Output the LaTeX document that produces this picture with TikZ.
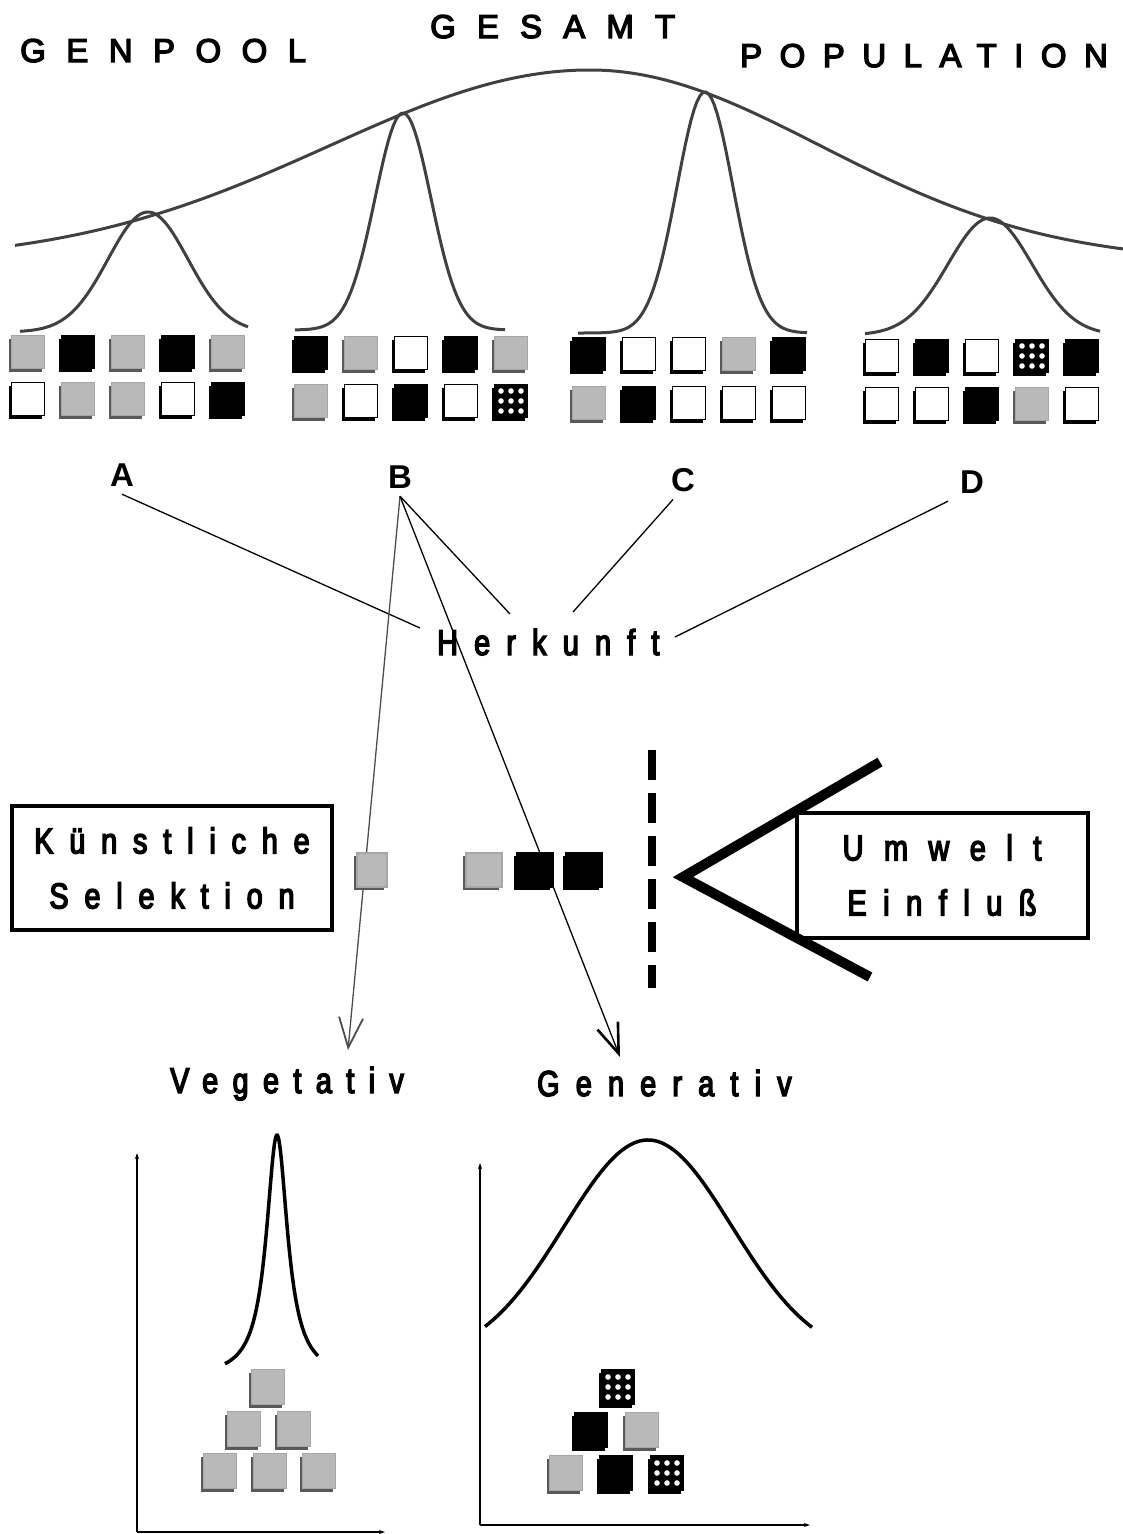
\documentclass[tikz,border=0pt]{standalone}
\usepackage{fontspec}
\setmainfont{Liberation Sans}
\usetikzlibrary{arrows.meta,shadows}

\newcommand{\wide}[2]{{\addfontfeature{LetterSpace=#1,FakeBold=4}#2}}
\newcommand{\narrowsp}[2]{{\addfontfeature{LetterSpace=#1,FakeStretch=0.8,FakeBold=4}#2}}

\begin{document}
\begin{tikzpicture}[x=1pt,y=-1pt,
    every node/.style={inner sep=0pt},
    big/.style={font=\fontsize{33}{55}\selectfont},
    low/.style={font=\fontsize{36}{55}\selectfont},
    lab/.style={font=\fontsize{33}{36}\selectfont\bfseries,inner sep=8pt},
    sqbase/.style={minimum width=33pt,minimum height=33pt,line width=1.2pt},
    sqg/.style={sqbase,fill=gray!55,draw=gray!70,
        drop shadow={shadow xshift=-3pt,shadow yshift=-3pt,fill=gray!70!black,opacity=1}},
    sqk/.style={sqbase,fill=black,draw=black,
        drop shadow={shadow xshift=-3pt,shadow yshift=-3pt,fill=black,opacity=1}},
    sqw/.style={sqbase,fill=white,draw=black,
        drop shadow={shadow xshift=-3pt,shadow yshift=-3pt,fill=black,opacity=1}},
    sqp/.style={sqk,path picture={
        \foreach \i in {-1,0,1} \foreach \j in {-1,0,1}
            \fill[white] ([xshift=\i*10pt,yshift=\j*10pt]path picture bounding box.center) circle (2.8pt);}},
    curve/.style={line width=3pt,draw=black!75},
    thin/.style={line width=1.3pt},
    box/.style={draw,line width=4pt,align=center,low}]

    \useasboundingbox (0,0) rectangle (1123,1534);

    % Ueberschrift
    \node[big,anchor=base west] (genpool) at (20,62) {\wide{62}{GENPOOL}};
    \node[big,anchor=base west] (gesamt) at (430,38) {\wide{64}{GESAMT}};
    \node[big,anchor=base west] (popul) at (740,67) {\wide{53}{POPULATION}};

    % Kurven
    \draw[curve] plot[domain=15:590,samples=80] (\x,{262-192*exp(-0.5*((\x-590)/260)^2)})
        -- plot[domain=590:1123,samples=80] (\x,{262-192*exp(-0.5*((\x-590)/230)^2)});
    \foreach \m/\p/\s/\b/\l/\r in {148/212/40/332/20/248, 403/113/28/330/295/505,
            705/92/28/333/578/807, 990/218/42/335/865/1100}
        \draw[curve] plot[domain=\l:\r,samples=80] (\x,{\b-(\b-\p)*exp(-0.5*((\x-\m)/\s)^2)});

    % Genotypen
    \foreach \t [count=\i] in {sqg,sqk,sqg,sqk,sqg}
        \node[\t] (A\i) at ({-22+50*\i},352) {};
    \foreach \t [count=\i] in {sqw,sqg,sqg,sqw,sqk}
        \node[\t] (a\i) at ({-22+50*\i},399) {};
    \foreach \t [count=\i] in {sqk,sqg,sqw,sqk,sqg}
        \node[\t] (B\i) at ({261+50*\i},353) {};
    \foreach \t [count=\i] in {sqg,sqw,sqk,sqw,sqp}
        \node[\t] (b\i) at ({261+50*\i},401) {};
    \foreach \t [count=\i] in {sqk,sqw,sqw,sqg,sqk}
        \node[\t] (C\i) at ({539+50*\i},354) {};
    \foreach \t [count=\i] in {sqg,sqk,sqw,sqw,sqw}
        \node[\t] (c\i) at ({539+50*\i},403) {};
    \foreach \t [count=\i] in {sqw,sqk,sqw,sqp,sqk}
        \node[\t] (D\i) at ({832+50*\i},356) {};
    \foreach \t [count=\i] in {sqw,sqw,sqk,sqg,sqw}
        \node[\t] (d\i) at ({832+50*\i},404) {};

    % Herkunft
    \node[lab,anchor=base] (A) at (122,486) {A};
    \node[lab,anchor=base] (B) at (400,488) {B};
    \node[lab,anchor=base] (C) at (683,491) {C};
    \node[lab,anchor=base] (D) at (972,493) {D};
    \node[low,anchor=base west] (herk) at (437,655) {\narrowsp{45}{Herkunft}};

    \coordinate (hA) at (420,628);
    \coordinate (hB) at (510,614);
    \coordinate (hC) at (573,612);
    \coordinate (hD) at (675,637);
    \coordinate (vegtip) at (348,1050);
    \coordinate (gentip) at (620,1057);

    \draw[thin] (A.south) -- (hA);
    \draw[thin] (B.south) -- (hB);
    \draw[thin] ([xshift=-10pt]C.south) -- (hC);
    \draw[thin] ([xshift=-24pt]D.south) -- (hD);
    \draw[thin,draw=black!70,-{Straight Barb[length=30pt,width=24pt,line width=1.8pt]}] (B.south) -- (vegtip);
    \draw[thin,-{Straight Barb[length=30pt,width=22pt,line width=2.6pt]}] (B.south) -- (gentip);

    % Selektion und Umwelt
    \node[box,minimum width=320pt,minimum height=124pt] (kuenst) at (172,868)
        {\narrowsp{44}{Künstliche}\\\narrowsp{44}{Selektion}};
    \node[box,minimum width=291pt,minimum height=125pt] (umwelt) at (942,875)
        {\narrowsp{57}{Umwelt}\\\narrowsp{46}{Einfluß}};

    \node[sqg,minimum width=30pt,minimum height=34pt] (s1) at (372,870) {};
    \node[sqg,minimum width=36pt,minimum height=34pt] (s2) at (484,870) {};
    \node[sqk,minimum width=36pt,minimum height=34pt] (s3) at (535,870) {};
    \node[sqk,minimum width=36pt,minimum height=34pt] (s4) at (584,870) {};

    \draw[line width=8pt,dash pattern=on 30pt off 13pt] (652,750) -- (652,988);
    \draw[line width=10pt] (880,762) -- (683,877) -- (870,977);

    \node[low,anchor=base west] (veg) at (170,1093) {\narrowsp{40}{Vegetativ}};
    \node[low,anchor=base west] (gen) at (537,1096) {\narrowsp{45}{Generativ}};

    % Verteilungen
    \coordinate (o1) at (137,1532);
    \coordinate (o2) at (480,1525);
    \draw[thin,-{Stealth[length=6pt,width=4pt]}] (o1) -- (137,1153);
    \draw[thin,-{Stealth[length=6pt,width=4pt]}] (o1) -- (385,1532);
    \draw[thin,-{Stealth[length=6pt,width=4pt]}] (o2) -- (480,1163);
    \draw[thin,-{Stealth[length=6pt,width=4pt]}] (o2) -- (810,1525);

    \draw[line width=3.5pt] plot[domain=225:318,samples=120] (\x,{1378-243/(1+((\x-277)/13)^2)});
    \draw[line width=3.5pt] plot[domain=485:812,samples=100] (\x,{1360-220*exp(-0.5*((\x-648)/84)^2)});

    \foreach \t/\px/\py [count=\i] in {sqg/268/1387, sqg/244/1429, sqg/294/1429,
            sqg/220/1471, sqg/270/1471, sqg/319/1471}
        \node[\t,minimum height=35pt] (v\i) at (\px,\py) {};
    \foreach \t/\px/\py [count=\i] in {sqp/618/1387, sqk/591/1430, sqg/642/1430,
            sqg/566/1473, sqk/616/1473, sqp/667/1473}
        \node[\t,minimum height=35pt] (g\i) at (\px,\py) {};
\end{tikzpicture}
\end{document}
